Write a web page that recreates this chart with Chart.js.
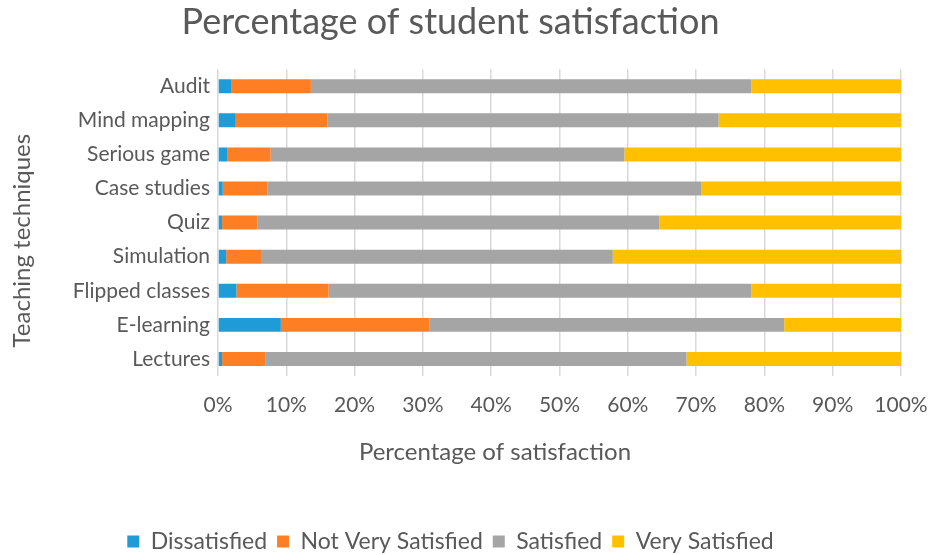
<!DOCTYPE html>
<html>
<head>
<meta charset="utf-8">
<script src="https://cdn.jsdelivr.net/npm/chart.js@4/dist/chart.umd.min.js"></script>
<style>
  html, body { margin: 0; padding: 0; background: #fff; }
  #wrap { width: 931px; height: 555px; }
</style>
</head>
<body>
<div id="wrap"><canvas id="chart"></canvas></div>
<script>
// categorias (de cima para baixo)
const techniques = ['Audit', 'Mind mapping', 'Serious game', 'Case studies', 'Quiz',
    'Simulation', 'Flipped classes', 'E-learning', 'Lectures'];

// valores em %
const dissatisfied     = [2.0, 2.6, 1.4, 0.7, 0.6, 1.2, 2.7, 9.2, 0.6];
const notVerySatisfied = [11.6, 13.4, 6.3, 6.5, 5.2, 5.1, 13.5, 21.8, 6.3];
const satisfied        = [64.5, 57.3, 51.8, 63.6, 58.8, 51.5, 61.9, 51.9, 61.7];
const verySatisfied    = [21.9, 26.7, 40.5, 29.2, 35.4, 42.2, 21.9, 17.1, 31.4];

const xTicks = [0, 10, 20, 30, 40, 50, 60, 70, 80, 90, 100];

const colors = {
    blue: '#1f9bd7',
    orange: '#fd7e23',
    gray: '#a5a5a5',
    yellow: '#ffc000',
    text: '#595959',
    grid: '#d9d9d9'
};

const fontFamily = 'Lato, "Open Sans", sans-serif';

// títulos dos eixos desenhados à mão (posição igual ao original)
const axisTitles = {
    id: 'axisTitles',
    afterDraw(chart) {
        const { ctx, chartArea } = chart;
        ctx.save();
        ctx.fillStyle = colors.text;
        ctx.font = '24px ' + fontFamily;
        ctx.textAlign = 'center';
        ctx.textBaseline = 'middle';
        ctx.fillText('Percentage of satisfaction', 495, chartArea.bottom + 76);
        ctx.translate(22, (chartArea.top + chartArea.bottom) / 2 + 18);
        ctx.rotate(-Math.PI / 2);
        ctx.fillText('Teaching techniques', 0, 0);
        ctx.restore();
    }
};

const mkSet = (label, data, color) => ({
    label, data,
    backgroundColor: color,
    borderWidth: 0,
    barPercentage: 0.41,
    categoryPercentage: 1
});

new Chart(document.getElementById('chart'), {
    type: 'bar',
    data: {
        labels: techniques,
        datasets: [
            mkSet('Dissatisfied', dissatisfied, colors.blue),
            mkSet('Not Very Satisfied', notVerySatisfied, colors.orange),
            mkSet('Satisfied', satisfied, colors.gray),
            mkSet('Very Satisfied', verySatisfied, colors.yellow)
        ]
    },
    plugins: [axisTitles],
    options: {
        indexAxis: 'y',
        responsive: true,
        maintainAspectRatio: false,
        animation: false,
        layout: { padding: { left: 0, right: 30, top: 0, bottom: -8 } },
        plugins: {
            title: {
                display: true,
                text: 'Percentage of student satisfaction',
                color: colors.text,
                font: { family: fontFamily, size: 36, weight: 'normal' },
                padding: { top: 1, bottom: 25 }
            },
            legend: {
                position: 'bottom',
                labels: {
                    color: colors.text,
                    font: { family: fontFamily, size: 23 },
                    boxWidth: 12,
                    boxHeight: 12,
                    padding: 10
                }
            },
            tooltip: { enabled: false }
        },
        scales: {
            x: {
                stacked: true,
                min: 0,
                max: 100,
                afterBuildTicks: (scale) => { scale.ticks = xTicks.map(v => ({ value: v })); },
                afterFit: (scale) => {
                    scale.height = 144;
                    scale.paddingLeft = 0;
                    scale.paddingRight = 0;
                },
                grid: { color: colors.grid, lineWidth: 1.5, drawTicks: false },
                border: { display: false },
                ticks: {
                    color: colors.text,
                    font: { family: fontFamily, size: 21 },
                    padding: 17,
                    maxRotation: 0,
                    callback: (value) => value + '%'
                }
            },
            y: {
                stacked: true,
                afterFit: (scale) => { scale.width = 218; },
                grid: { display: false, drawTicks: false },
                border: { display: false },
                ticks: {
                    color: colors.text,
                    font: { family: fontFamily, size: 21 },
                    padding: 8
                }
            }
        }
    }
});
</script>
</body>
</html>
